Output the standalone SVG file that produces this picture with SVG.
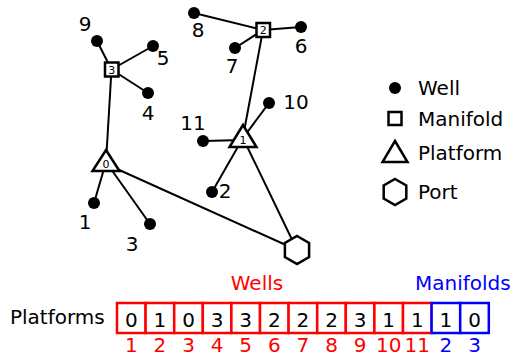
<svg xmlns="http://www.w3.org/2000/svg" width="513" height="359" viewBox="0 0 513 359">
<defs>
<style>
text{font-family:"DejaVu Sans","Liberation Sans",sans-serif;font-size:20px;fill:#000}
.lbl{text-anchor:middle}
.small{font-size:11px;text-anchor:middle}
.edge{stroke:#000;stroke-width:2;fill:none}
.well{fill:#000}
.shape{fill:#fff;stroke:#000;stroke-width:2.5}
.rbox{fill:#fff;stroke:#f00;stroke-width:2.5}
.bbox{fill:#fff;stroke:#00f;stroke-width:2.5}
.red{fill:#f00}
.blue{fill:#00f}
</style>
</defs>
<rect width="513" height="359" fill="#fff"/>
<g id="connectors" class="edge">
<line x1="97" y1="41" x2="111.5" y2="69.5"/>
<line x1="153" y1="46" x2="111.5" y2="69.5"/>
<line x1="148" y1="93" x2="111.5" y2="69.5"/>
<line x1="111.5" y1="69.5" x2="106" y2="162"/>
<line x1="194" y1="13" x2="263" y2="30"/>
<line x1="235" y1="48" x2="263" y2="30"/>
<line x1="301" y1="27" x2="263" y2="30"/>
<line x1="263" y1="30" x2="243" y2="137"/>
<line x1="203" y1="141" x2="243" y2="140"/>
<line x1="269" y1="103" x2="243" y2="138"/>
<line x1="212" y1="192" x2="243" y2="138"/>
<line x1="243" y1="138" x2="297" y2="250"/>
<line x1="94" y1="203" x2="106" y2="162"/>
<line x1="150" y1="224" x2="106" y2="162"/>
<line x1="106" y1="164" x2="297" y2="250"/>
</g>
<g id="well9"><circle class="well" cx="97" cy="41" r="6"/><text class="lbl" x="85" y="31">9</text></g>
<g id="well5"><circle class="well" cx="153" cy="46" r="6"/><text class="lbl" x="163" y="65">5</text></g>
<g id="well4"><circle class="well" cx="148" cy="93" r="6"/><text class="lbl" x="148" y="120">4</text></g>
<g id="well8"><circle class="well" cx="194" cy="13" r="6"/><text class="lbl" x="198" y="37">8</text></g>
<g id="well7"><circle class="well" cx="235" cy="48" r="6"/><text class="lbl" x="232" y="73">7</text></g>
<g id="well6"><circle class="well" cx="301" cy="27" r="6"/><text class="lbl" x="301" y="53">6</text></g>
<g id="well10"><circle class="well" cx="269" cy="103" r="6"/><text class="lbl" x="296" y="109">10</text></g>
<g id="well11"><circle class="well" cx="203" cy="141" r="6"/><text class="lbl" x="193" y="130">11</text></g>
<g id="well2"><circle class="well" cx="212" cy="192" r="6"/><text class="lbl" x="225" y="198">2</text></g>
<g id="well1"><circle class="well" cx="94" cy="203" r="6"/><text class="lbl" x="85" y="229">1</text></g>
<g id="well3"><circle class="well" cx="150" cy="224" r="6"/><text class="lbl" x="132" y="251">3</text></g>
<g id="manifold3"><rect class="shape" x="105" y="62.5" width="13.5" height="14" stroke-width="2"/><text class="small" x="111.8" y="73.5">3</text></g>
<g id="manifold2"><rect class="shape" x="256.5" y="23" width="13.5" height="14" stroke-width="2"/><text class="small" x="263.3" y="34">2</text></g>
<g id="platform0"><polygon class="shape" points="106,150 119.5,171 92.5,171"/><text class="small" x="106" y="168">0</text></g>
<g id="platform1"><polygon class="shape" points="243,125 256.5,147 229.5,147"/><text class="small" x="243" y="144">1</text></g>
<g id="port"><polygon class="shape" stroke-width="1.8" points="297,236 309.1,243 309.1,257 297,264 284.9,257 284.9,243"/></g>
<g id="legend">
<circle class="well" cx="395" cy="88" r="6"/><text x="418" y="95">Well</text>
<rect class="shape" x="388.5" y="112" width="13" height="13" stroke-width="1.8"/><text x="418" y="126">Manifold</text>
<polygon class="shape" points="395,141 407.5,162 382.5,162"/><text x="418" y="160">Platform</text>
<polygon class="shape" stroke-width="1.8" points="395,179 406.3,185.5 406.3,198.5 395,205 383.7,198.5 383.7,185.5"/><text x="418" y="199">Port</text>
</g>
<g id="table">
<text class="red lbl" x="257" y="290">Wells</text>
<text class="blue" x="415" y="290">Manifolds</text>
<text x="10" y="324">Platforms</text>
<rect class="rbox" x="117" y="303" width="28.6" height="30"/>
<rect class="rbox" x="145.6" y="303" width="28.6" height="30"/>
<rect class="rbox" x="174.2" y="303" width="28.6" height="30"/>
<rect class="rbox" x="202.8" y="303" width="28.6" height="30"/>
<rect class="rbox" x="231.4" y="303" width="28.6" height="30"/>
<rect class="rbox" x="260" y="303" width="28.6" height="30"/>
<rect class="rbox" x="288.6" y="303" width="28.6" height="30"/>
<rect class="rbox" x="317.2" y="303" width="28.6" height="30"/>
<rect class="rbox" x="345.8" y="303" width="28.6" height="30"/>
<rect class="rbox" x="374.4" y="303" width="28.6" height="30"/>
<rect class="rbox" x="403" y="303" width="28.6" height="30"/>
<rect class="bbox" x="431.6" y="303" width="28.6" height="30"/>
<rect class="bbox" x="460.2" y="303" width="28.6" height="30"/>
<g class="lbl">
<text class="lbl" x="131.3" y="327">0</text>
<text class="lbl" x="159.9" y="327">1</text>
<text class="lbl" x="188.5" y="327">0</text>
<text class="lbl" x="217.1" y="327">3</text>
<text class="lbl" x="245.7" y="327">3</text>
<text class="lbl" x="274.3" y="327">2</text>
<text class="lbl" x="302.9" y="327">2</text>
<text class="lbl" x="331.5" y="327">2</text>
<text class="lbl" x="360.1" y="327">3</text>
<text class="lbl" x="388.7" y="327">1</text>
<text class="lbl" x="417.3" y="327">1</text>
<text class="lbl" x="445.9" y="327">1</text>
<text class="lbl" x="474.5" y="327">0</text>
</g>
<text class="red lbl" x="131.3" y="352">1</text>
<text class="red lbl" x="159.9" y="352">2</text>
<text class="red lbl" x="188.5" y="352">3</text>
<text class="red lbl" x="217.1" y="352">4</text>
<text class="red lbl" x="245.7" y="352">5</text>
<text class="red lbl" x="274.3" y="352">6</text>
<text class="red lbl" x="302.9" y="352">7</text>
<text class="red lbl" x="331.5" y="352">8</text>
<text class="red lbl" x="360.1" y="352">9</text>
<text class="red lbl" x="388.7" y="352">10</text>
<text class="red lbl" x="417.3" y="352">11</text>
<text class="blue lbl" x="445.9" y="352">2</text>
<text class="blue lbl" x="474.5" y="352">3</text>
</g>
</svg>
